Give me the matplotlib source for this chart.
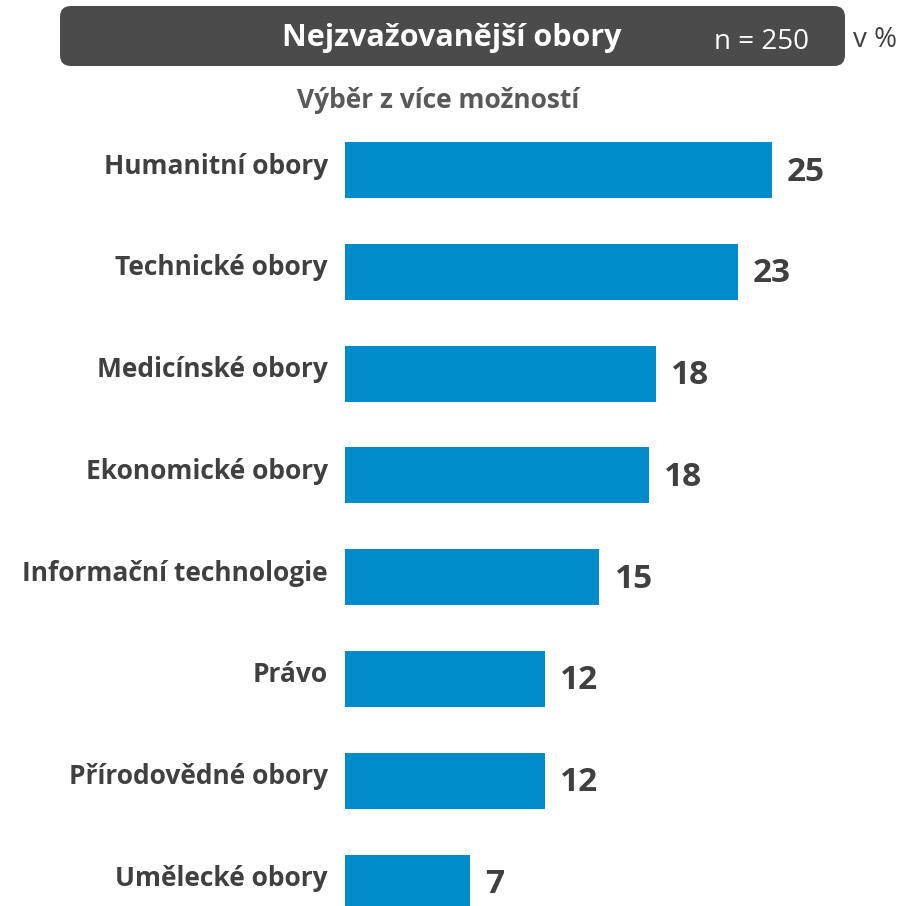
import matplotlib.pyplot as plt
from matplotlib.patches import FancyBboxPatch

plt.rcParams['font.family'] = ['Open Sans', 'DejaVu Sans']

# data
kategorie = ['Humanitní obory', 'Technické obory', 'Medicínské obory', 'Ekonomické obory',
             'Informační technologie', 'Právo', 'Přírodovědné obory', 'Umělecké obory']
hodnoty = [25.0, 23.0, 18.2, 17.8, 14.9, 11.7, 11.7, 7.3]
popisky = ['25', '23', '18', '18', '15', '12', '12', '7']

modra = '#008BCB'
seda_text = '#404040'

W, H = 900, 906
fig = plt.figure(figsize=(W / 100, H / 100), dpi=100)

# osa s pruhy
ax = fig.add_axes([345 / W, 0, 555 / W, (906 - 130) / H])
y = list(range(len(kategorie)))
ax.barh(y, hodnoty, height=0.55, color=modra)
ax.set_xlim(0, 555 / 17.08)
ax.set_ylim(7.23, -0.393)
ax.axis('off')

for i, (v, t) in enumerate(zip(hodnoty, popisky)):
    ax.annotate(t, (v, i), xytext=(15, -2), textcoords='offset pixels',
                ha='left', va='center', fontsize=24, fontweight='bold', color=seda_text)
    ax.annotate(kategorie[i], (0, i), xytext=(-17, 4), textcoords='offset pixels',
                ha='right', va='center', fontsize=19, fontweight='bold', color=seda_text,
                annotation_clip=False)

# hlavicka
box = FancyBboxPatch((60 / W, 1 - 66 / H), 785 / W, 60 / H,
                     boxstyle='round,pad=0,rounding_size=0.012',
                     transform=fig.transFigure, facecolor='#4B4B4B', edgecolor='none')
fig.patches.append(box)
fig.text(452 / W, 1 - 38 / H, 'Nejzvažovanější obory', ha='center', va='center',
         fontsize=22, fontweight='bold', color='white')
fig.text(762 / W, 1 - 42 / H, 'n = 250', ha='center', va='center', fontsize=20, color='white')
fig.text(875 / W, 1 - 40 / H, 'v %', ha='center', va='center', fontsize=20, color=seda_text)
fig.text(438 / W, 1 - 100 / H, 'Výběr z více možností', ha='center', va='center',
         fontsize=19, fontweight='bold', color='#595959')

fig.savefig('out.png', dpi=100)
